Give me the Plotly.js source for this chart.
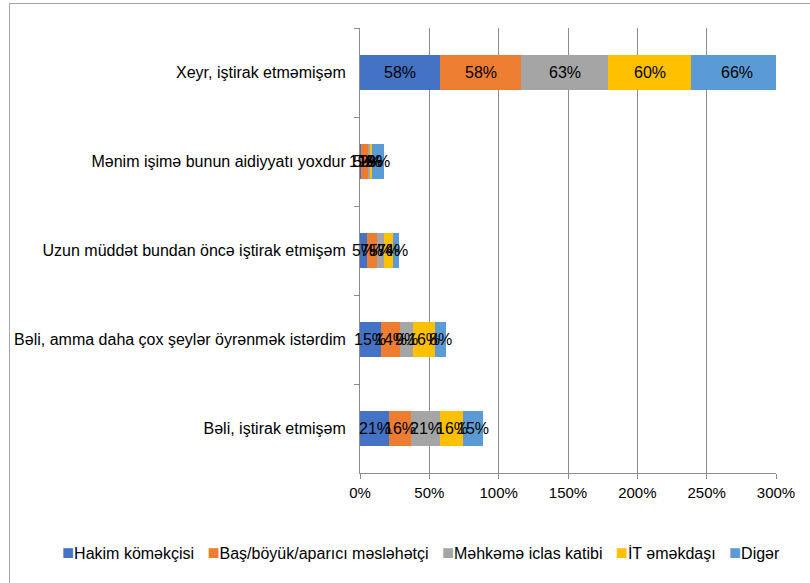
<!DOCTYPE html>
<html>
<head>
<meta charset="utf-8">
<script src="https://cdn.plot.ly/plotly-3.0.1.min.js"></script>
<style>
html,body{margin:0;padding:0;background:#fff;overflow:hidden;}
#chart{width:810px;height:583px;position:absolute;left:0;top:0;}
#frame{position:absolute;left:9px;top:3px;width:830px;height:620px;border:1px solid #a6a6a6;pointer-events:none;}
</style>
</head>
<body>
<div id="chart"></div>
<div id="frame"></div>
<script>
const categories = [
  "Xeyr, iştirak etməmişəm",
  "Mənim işimə bunun aidiyyatı yoxdur",
  "Uzun müddət bundan öncə iştirak etmişəm",
  "Bəli, amma daha çox şeylər öyrənmək istərdim",
  "Bəli, iştirak etmişəm"
];
const seriesNames = ["Hakim köməkçisi", "Baş/böyük/aparıcı məsləhətçi", "Məhkəmə iclas katibi", "İT əməkdaşı", "Digər"];
const hakim    = [58, 1, 5, 15, 21];
const bas      = [58, 5, 7, 14, 16];
const mehkeme  = [63, 1, 5, 9, 21];
const it       = [60, 2, 7, 16, 16];
const diger    = [66, 8, 4, 8, 15];
const seriesValues = [hakim, bas, mehkeme, it, diger];
const colors = ["#4472C4", "#ED7D31", "#A5A5A5", "#FFC000", "#5B9BD5"];
const xTicks = [0, 50, 100, 150, 200, 250, 300];

const font = "Liberation Sans, Arial, sans-serif";
const traces = seriesValues.map((vals, i) => ({
  type: "bar",
  orientation: "h",
  name: seriesNames[i],
  y: categories,
  x: vals,
  marker: {color: colors[i], line: {width: 0}},
  textposition: "none",
  hoverinfo: "skip"
}));

// data labels centred on each stacked segment, placed in data coordinates
const annotations = [];
const cum = categories.map(() => 0);
seriesValues.forEach((vals) => {
  vals.forEach((v, j) => {
    annotations.push({
      xref: "x", yref: "y", x: cum[j] + v / 2, y: categories[j],
      text: v + "%", showarrow: false,
      xanchor: "center", yanchor: "middle",
      font: {family: font, size: 16, color: "#000"}
    });
    cum[j] += v;
  });
});

// legend row
const legendText = seriesNames.map((n, i) =>
  "<span style='color:" + colors[i] + ";font-size:20px'>■</span>" + n).join("   ");
annotations.push({
  xref: "paper", yref: "paper", x: 0.1466, y: -0.1775,
  xanchor: "center", yanchor: "middle", showarrow: false,
  text: legendText, font: {family: font, size: 16, color: "#000"}
});

const layout = {
  width: 810, height: 583,
  margin: {l: 360, r: 34, t: 28, b: 110},
  paper_bgcolor: "#fff", plot_bgcolor: "#fff",
  barmode: "stack",
  bargap: 0.6,
  showlegend: false,
  font: {family: font, size: 16, color: "#000"},
  xaxis: {
    range: [0, 300], tickvals: xTicks, ticktext: xTicks.map(v => v + "%"),
    showgrid: true, gridcolor: "#8c8c8c", gridwidth: 1,
    zeroline: false, showline: true, linecolor: "#8c8c8c",
    ticks: "outside", ticklen: 5, tickcolor: "#8c8c8c",
    ticklabelstandoff: 1,
    tickfont: {family: font, size: 15, color: "#000"},
    fixedrange: true
  },
  yaxis: {
    type: "category", autorange: "reversed",
    showgrid: false, zeroline: false, showline: true, linecolor: "#8c8c8c",
    ticks: "outside", tickson: "boundaries", ticklen: 5, tickcolor: "#8c8c8c",
    ticklabelstandoff: 10,
    tickfont: {family: font, size: 16, color: "#000"},
    fixedrange: true
  },
  annotations: annotations
};

Plotly.newPlot("chart", traces, layout, {displayModeBar: false, staticPlot: true});
</script>
</body>
</html>
